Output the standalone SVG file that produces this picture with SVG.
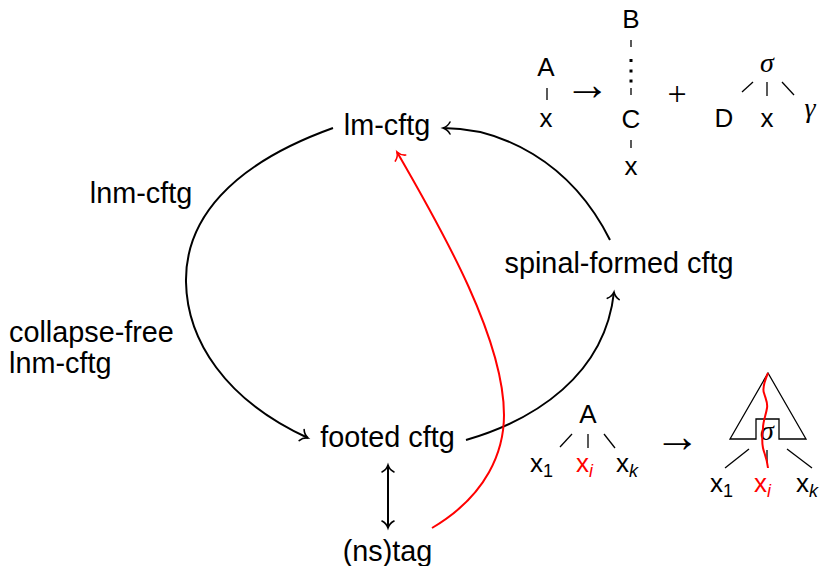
<svg xmlns="http://www.w3.org/2000/svg" width="826" height="566" viewBox="0 0 826 566">
<defs>
<style>
.lbl{font-family:"Liberation Sans",Arial,sans-serif;font-size:28.8px;fill:#000}
.tr{font-family:"Liberation Sans",Arial,sans-serif;font-size:26px;fill:#000}
.sub{font-size:18px}
.it{font-style:italic}
.math{font-family:"Liberation Serif","Times New Roman",serif;font-style:italic;font-size:28px;fill:#000}
.sym{font-family:"Liberation Serif","DejaVu Serif",serif;fill:#000}
.red{fill:#ff0000}
.conn{fill:none;stroke:#000;stroke-width:2}
.rconn{fill:none;stroke:#ff0000;stroke-width:2}
.tl{fill:none;stroke:#000;stroke-width:1.3}
</style>
<marker id="ah" viewBox="-10 -10 20 20" refX="0" refY="0" markerWidth="20" markerHeight="20" markerUnits="userSpaceOnUse" orient="auto-start-reverse" overflow="visible">
<path d="M-7,-6 C-5,-2 -1.5,-0.5 0,0 C-1.5,0.5 -5,2 -7,6" fill="none" stroke="#000" stroke-width="1.6" stroke-linecap="round"/>
</marker>
<marker id="ahr" viewBox="-10 -10 20 20" refX="0" refY="0" markerWidth="20" markerHeight="20" markerUnits="userSpaceOnUse" orient="auto" overflow="visible">
<path d="M-7,-6 C-5,-2 -1.5,-0.5 0,0 C-1.5,0.5 -5,2 -7,6" fill="none" stroke="#ff0000" stroke-width="1.6" stroke-linecap="round"/>
</marker>
</defs>

<g id="connectors">
<path class="conn" d="M333,128 C230,165 185,220 186,282 C187,340 225,400 308,438" marker-end="url(#ah)"/>
<path class="conn" d="M466,440 C535,420 605,375 614,292" marker-end="url(#ah)"/>
<path class="conn" d="M610,240 C570,160 500,128 443,128" marker-end="url(#ah)"/>
<path class="conn" d="M388,465 L388,528" marker-start="url(#ah)" marker-end="url(#ah)"/>
<path class="rconn" d="M432,528 C488,495 504,450 504,415 C504,340 445,235 397,152" marker-end="url(#ahr)"/>
</g>

<g id="node-lm-cftg"><text class="lbl" x="387" y="135" text-anchor="middle">lm-cftg</text></g>
<g id="node-footed-cftg"><text class="lbl" x="387.5" y="447" text-anchor="middle">footed cftg</text></g>
<g id="node-nstag"><text class="lbl" x="387.5" y="561" text-anchor="middle">(ns)tag</text></g>
<g id="node-spinal-formed-cftg"><text class="lbl" x="619" y="273" text-anchor="middle">spinal-formed cftg</text></g>
<g id="label-lnm-cftg"><text class="lbl" x="141" y="203" text-anchor="middle">lnm-cftg</text></g>
<g id="label-collapse-free"><text class="lbl" x="9" y="342">collapse-free</text><text class="lbl" x="9" y="373">lnm-cftg</text></g>

<g id="rule-spinal">
<text class="tr" x="546" y="76" text-anchor="middle">A</text>
<line class="tl" x1="547" y1="88" x2="547" y2="100"/>
<text class="tr" x="546" y="127" text-anchor="middle">x</text>
<text class="sym" x="587.5" y="100" font-size="46" text-anchor="middle">→</text>
<text class="tr" x="631" y="28" text-anchor="middle">B</text>
<line class="tl" x1="631" y1="40" x2="631" y2="47"/>
<rect x="629.5" y="59" width="3" height="3"/>
<rect x="629.5" y="69.5" width="3" height="3"/>
<rect x="629.5" y="79.5" width="3" height="3"/>
<line class="tl" x1="631" y1="88" x2="631" y2="95"/>
<text class="tr" x="631" y="128" text-anchor="middle">C</text>
<line class="tl" x1="631" y1="140" x2="631" y2="148"/>
<text class="tr" x="631" y="175" text-anchor="middle">x</text>
<text class="sym" x="677" y="105" font-size="34" text-anchor="middle">+</text>
<text class="math" x="767" y="72" text-anchor="middle">σ</text>
<line class="tl" x1="742" y1="92" x2="753" y2="82"/>
<line class="tl" x1="767" y1="82" x2="767" y2="96"/>
<line class="tl" x1="782" y1="82" x2="794" y2="95"/>
<text class="tr" x="724" y="127" text-anchor="middle">D</text>
<text class="tr" x="767" y="127" text-anchor="middle">x</text>
<text class="math" x="810" y="117" font-size="30" text-anchor="middle">γ</text>
</g>

<g id="rule-footed">
<text class="tr" x="588" y="423" text-anchor="middle">A</text>
<line class="tl" x1="560" y1="447" x2="572" y2="434"/>
<line class="tl" x1="588" y1="434" x2="588" y2="448"/>
<line class="tl" x1="604" y1="434" x2="615" y2="448"/>
<text class="tr" x="530" y="472">x<tspan class="sub" dy="5">1</tspan></text>
<text class="tr red" x="576" y="472">x<tspan class="sub it" dy="5">i</tspan></text>
<text class="tr" x="616" y="472">x<tspan class="sub it" dy="5">k</tspan></text>
<text class="sym" x="677.5" y="452" font-size="46" text-anchor="middle">→</text>
<path class="tl" d="M768,373 L730,439 L756,439 L756,419 L779,419 L779,439 L806,439 Z"/>
<text class="math" x="767" y="440" text-anchor="middle">σ</text>
<line class="tl" x1="725" y1="468" x2="749" y2="449"/>
<line class="tl" x1="767" y1="450" x2="767" y2="463"/>
<line class="tl" x1="787" y1="449" x2="812" y2="468"/>
<text class="tr" x="710" y="492">x<tspan class="sub" dy="5">1</tspan></text>
<text class="tr red" x="754" y="492">x<tspan class="sub it" dy="5">i</tspan></text>
<text class="tr" x="796" y="492">x<tspan class="sub it" dy="5">k</tspan></text>
<path class="rconn" d="M768,373 C765,380 762,388 764,393 C766,400 768,403 767,408 C766,415 763,421 763,428 C762,436 762,443 763,448 C764,453 767,458 768,468"/>
</g>
</svg>
